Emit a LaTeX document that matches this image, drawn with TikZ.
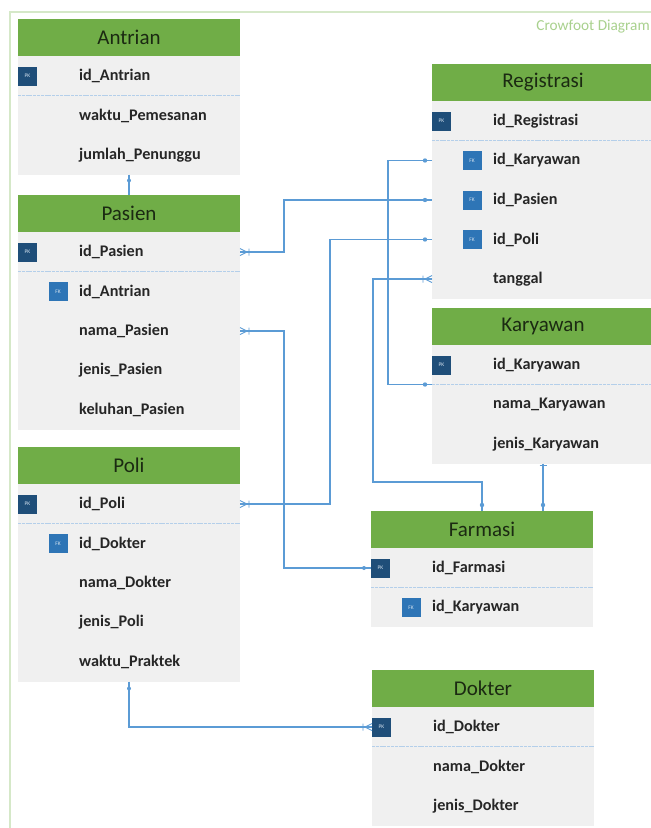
\documentclass[tikz,border=0pt]{standalone}
\usepackage{fontspec}
\setmainfont{Carlito}
\usetikzlibrary{calc}

\definecolor{hdrgreen}{HTML}{70AD47}
\definecolor{bodygray}{HTML}{F0F0F0}
\definecolor{linkblue}{HTML}{5B9BD5}
\definecolor{sepblue}{HTML}{B4CFEA}
\definecolor{pkblue}{HTML}{1F4E79}
\definecolor{fkblue}{HTML}{2E75B6}
\definecolor{framegreen}{HTML}{D5E8C8}
\definecolor{titlegreen}{HTML}{A9D18E}
\definecolor{hdrtext}{HTML}{1B2A12}
\definecolor{fieldtext}{HTML}{262626}

% One entity box: name, left x, top y, title, number of rows, rows (kind/text)
% kind: 1 = primary key, 2 = foreign key, 0 = plain attribute
\newcommand{\erdtable}[6]{%
  \pgfmathsetmacro{\erdh}{76.5+39.5*(#5-1)-37}
  \node[erdhead] (#1-head) at (#2,#3) {#4};
  \node[erdbody, minimum height=\erdh pt] (#1-body) at (#2,#3+37) {};
  \coordinate (#1-sep-w) at (#2,#3+76.5);
  \draw[sepline] (#1-sep-w) -- ++(222,0);
  \foreach \kind/\txt [count=\i] in {#6} {
    \pgfmathsetmacro{\ry}{#3+57+39.5*(\i-1)}
    \coordinate (#1-r\i-w) at (#2,\ry);
    \coordinate (#1-r\i-e) at (#2+222,\ry);
    \node[field] (#1-f\i) at (#2+61,\ry) {\txt};
    \ifnum\kind=1 \node[keyicon, fill=pkblue] (#1-k\i) at (#2+9.5,\ry) {PK};\fi
    \ifnum\kind=2 \node[keyicon, fill=fkblue] (#1-k\i) at (#2+40,\ry) {FK};\fi
  }%
}

\tikzset{
  erdhead/.style={anchor=north west, fill=hdrgreen, draw=none, inner sep=0pt, outer sep=0pt,
    minimum width=222pt, minimum height=37pt, text=hdrtext,
    font=\fontsize{21}{24}\selectfont},
  erdbody/.style={anchor=north west, fill=bodygray, draw=none, inner sep=0pt, outer sep=0pt,
    minimum width=222pt},
  sepline/.style={draw=sepblue, line width=1.3pt, dash pattern=on 3pt off 0.8pt},
  field/.style={anchor=west, inner sep=0pt, text=fieldtext,
    font=\fontsize{16.2}{18}\selectfont\bfseries},
  keyicon/.style={minimum size=19pt, inner sep=0pt, text=white!80!fkblue,
    font=\fontsize{5.5}{6}\selectfont},
  link/.style={draw=linkblue, line width=1.3pt},
  crowfoot/.pic={\draw[linkblue, line width=0.9pt]
      (0,-3.5) -- (7,0) -- (0,3.5) (0,0) -- (7,0) (9,-3.5) -- (9,3.5);},
  onedot/.style={fill=linkblue},
}

\begin{document}
\begin{tikzpicture}[x=1pt, y=-1pt]
\clip (0,0) rectangle (651,828);
\fill[white] (0,0) rectangle (651,828);

% page frame and caption
\coordinate (frame-bl) at (10,828);
\coordinate (frame-tl) at (10,12);
\coordinate (frame-tr) at (651,12);
\draw[framegreen, line width=2pt] (frame-bl) -- (frame-tl) -- (frame-tr);
\node[anchor=east, inner sep=0pt, text=titlegreen, font=\fontsize{15.3}{17}\selectfont]
  (caption) at (650,27) {Crowfoot Diagram};

% entities
\erdtable{antrian}{18}{19}{Antrian}{3}{1/id\_Antrian, 0/waktu\_Pemesanan, 0/jumlah\_Penunggu}
\erdtable{pasien}{18}{195}{Pasien}{5}{1/id\_Pasien, 2/id\_Antrian, 0/nama\_Pasien, 0/jenis\_Pasien, 0/keluhan\_Pasien}
\erdtable{poli}{18}{447}{Poli}{5}{1/id\_Poli, 2/id\_Dokter, 0/nama\_Dokter, 0/jenis\_Poli, 0/waktu\_Praktek}
\erdtable{reg}{432}{64}{Registrasi}{5}{1/id\_Registrasi, 2/id\_Karyawan, 2/id\_Pasien, 2/id\_Poli, 0/tanggal}
\erdtable{kar}{432}{308}{Karyawan}{3}{1/id\_Karyawan, 0/nama\_Karyawan, 0/jenis\_Karyawan}
\erdtable{farm}{371}{511}{Farmasi}{2}{1/id\_Farmasi, 2/id\_Karyawan}
\erdtable{dok}{372}{670}{Dokter}{3}{1/id\_Dokter, 0/nama\_Dokter, 0/jenis\_Dokter}

% relationships
\draw[link] (antrian-body.south) -- (pasien-head.north);
\draw[link] (reg-r2-w) -- ++(-44,0) |- (kar-sep-w);
\draw[link] (pasien-r1-e) -- ++(44,0) |- (reg-r3-w);
\draw[link] (poli-r1-e) -- ++(90,0) |- (reg-r4-w);
\draw[link] (farm-head.north) -- ++(0,-29) -- ++(-109,0) |- (reg-r5-w);
\draw[link] (kar-body.south) -- (kar-body.south |- farm-head.north);
\draw[link] (pasien-r3-e) -- ++(44,0) |- (farm-r1-w);
\draw[link] (poli-body.south) |- (dok-r1-w);

% end marks
\fill[onedot] ($(antrian-body.south)+(0,6)$) circle (2pt);
\fill[onedot] ($(reg-r2-w)+(-7,0)$) circle (2.2pt);
\fill[onedot] ($(reg-r3-w)+(-7,0)$) circle (2.2pt);
\fill[onedot] ($(reg-r4-w)+(-7,0)$) circle (2.2pt);
\fill[onedot] ($(kar-sep-w)+(-7,0)$) circle (2.2pt);
\fill[onedot] ($(farm-head.north)+(0,-6)$) circle (2.2pt);
\fill[onedot] ($(kar-body.south |- farm-head.north)+(0,-6)$) circle (2.2pt);
\draw[linkblue, line width=0.9pt] ($(kar-body.south)+(-3.5,2)$) -- ++(7,0);
\fill[onedot] ($(poli-body.south)+(0,7)$) circle (2pt);
\fill[onedot] ($(farm-r1-w)+(-7,0)$) circle (2pt);
\pic at (pasien-r1-e) {crowfoot};
\pic at (pasien-r3-e) {crowfoot};
\pic at (poli-r1-e) {crowfoot};
\pic[xscale=-1] at (reg-r5-w) {crowfoot};
\pic[xscale=-1] at (dok-r1-w) {crowfoot};

% line crossings
\foreach \c in {reg-r3-w, reg-r4-w, reg-r5-w} {
  \fill[onedot] ($(\c)+(-44,0)$) circle (1.6pt);
}
\fill[onedot] ($(poli-r1-e)+(44,0)$) circle (1.6pt);
\end{tikzpicture}
\end{document}
